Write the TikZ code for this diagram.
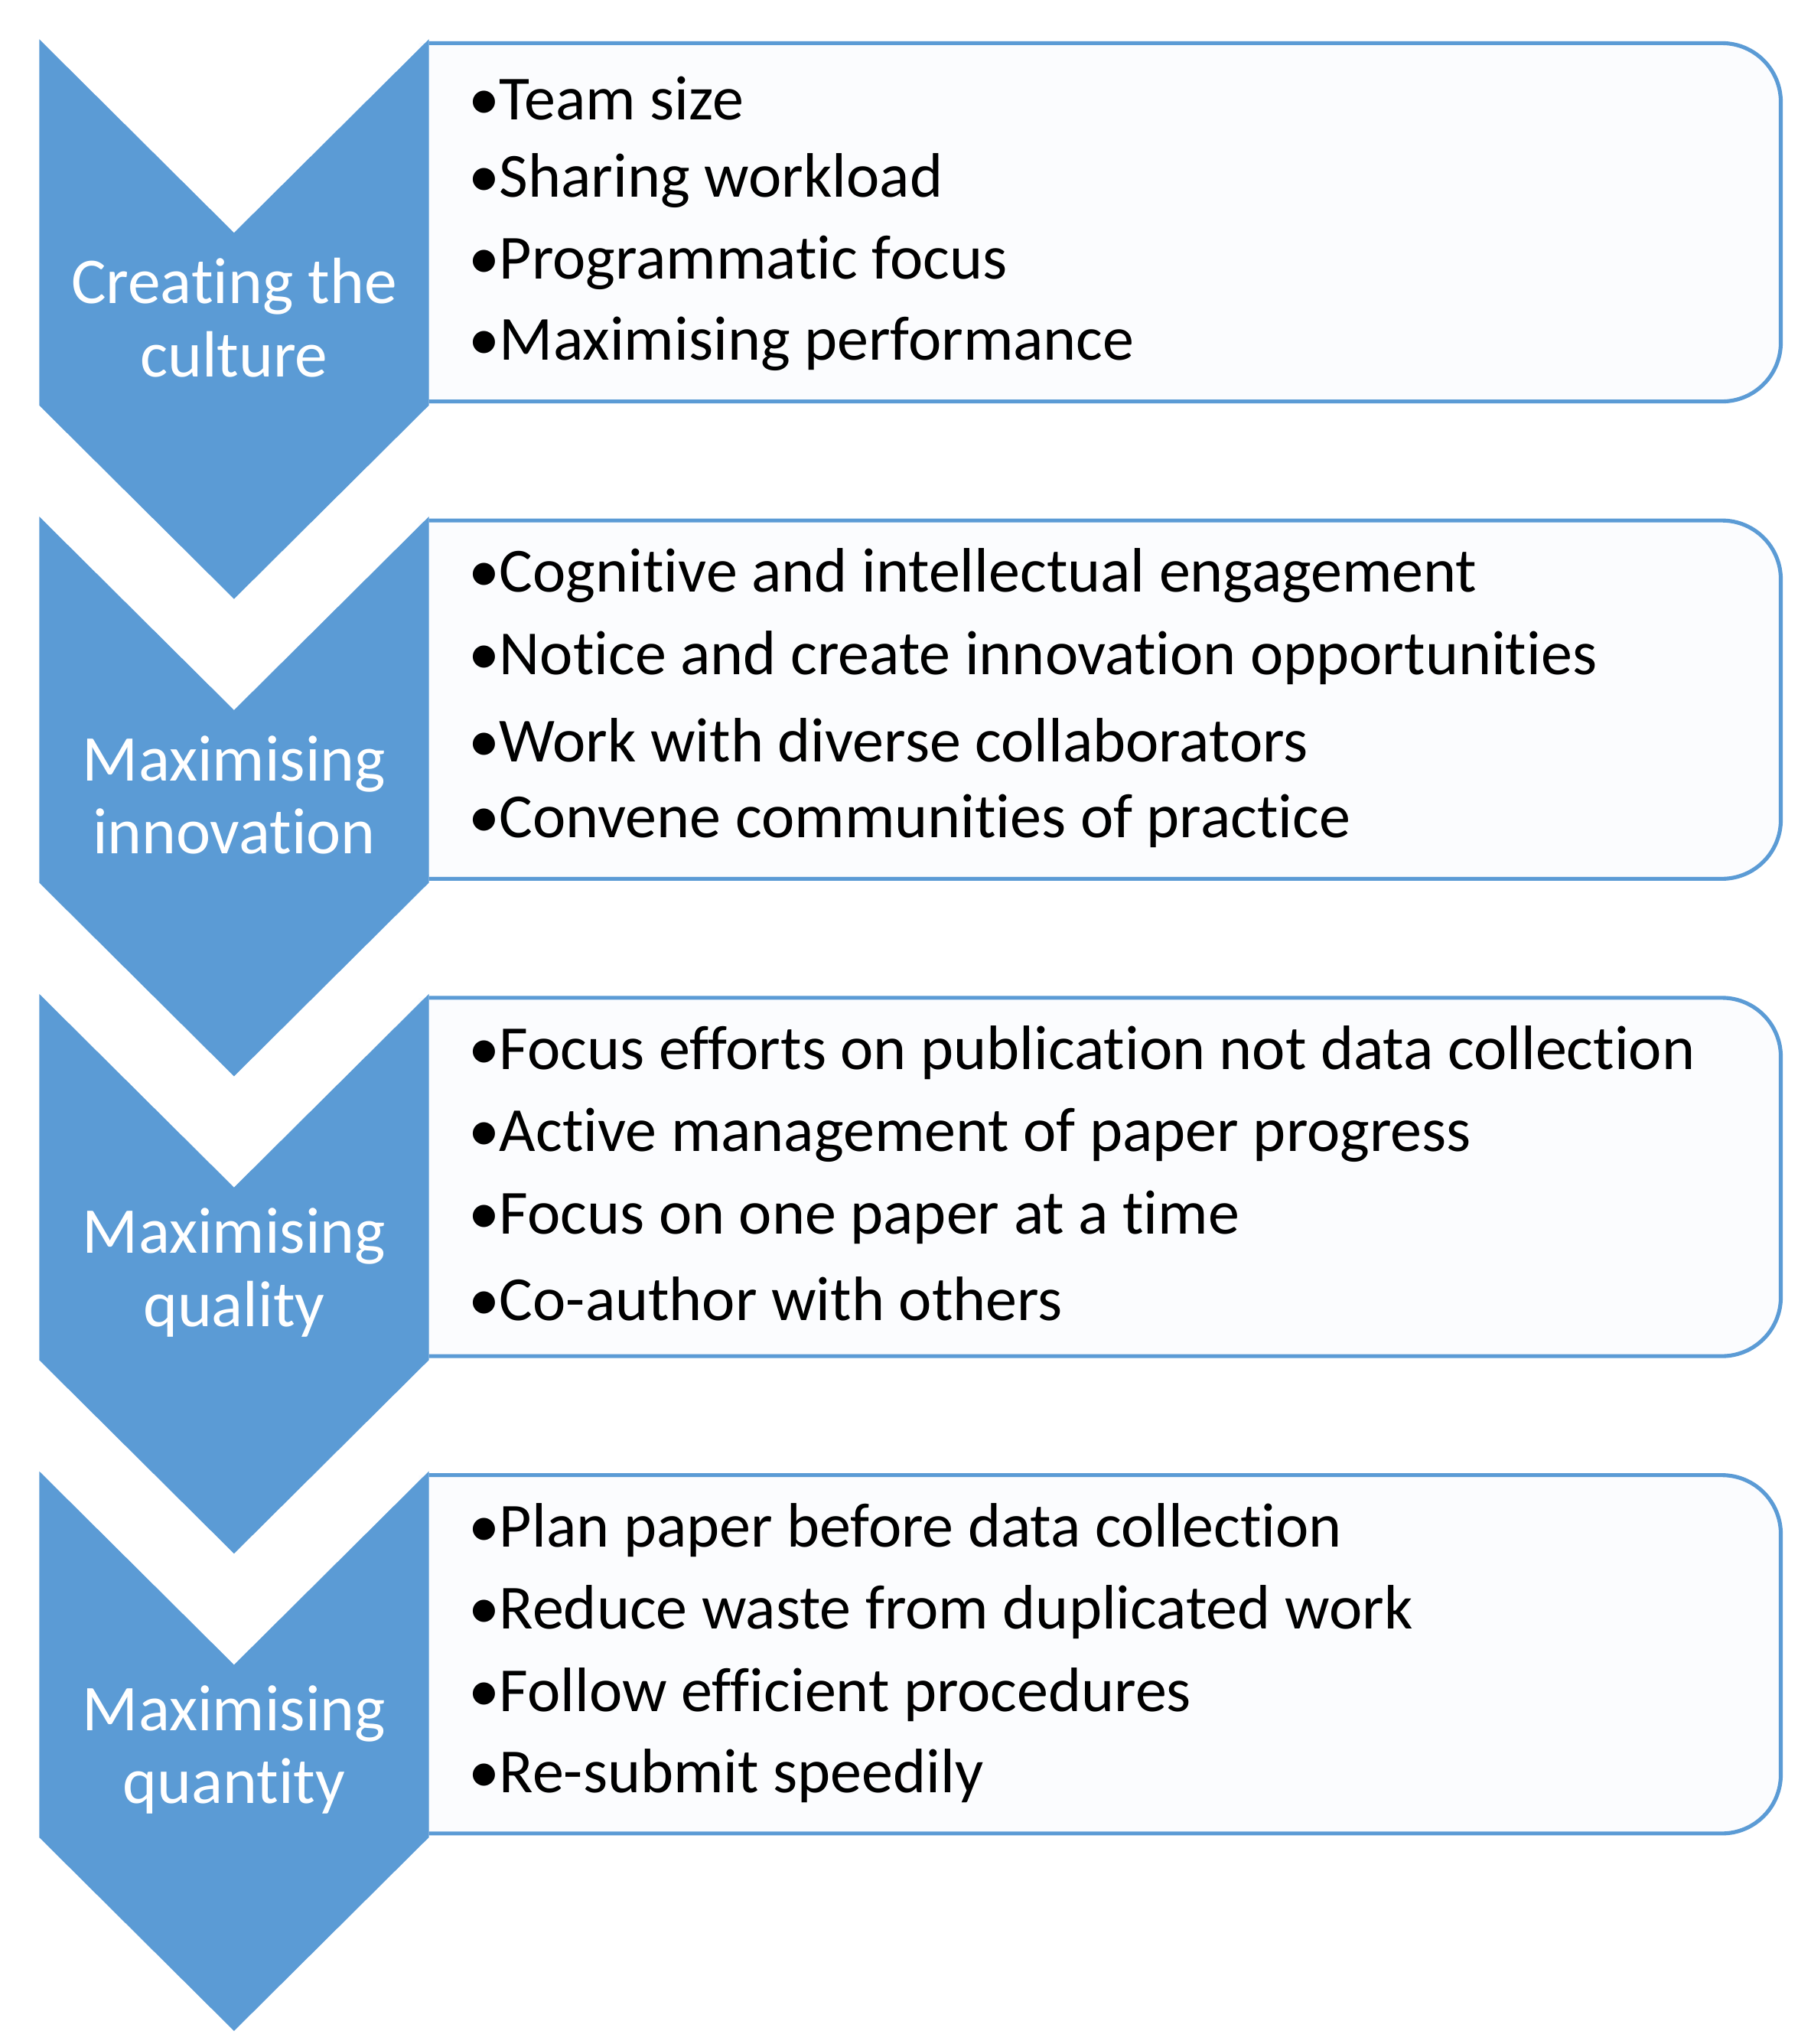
\documentclass[tikz,border=0pt]{standalone}
\usepackage{fontspec}
\setmainfont{Carlito}[Ligatures=NoCommon]
\definecolor{cblue}{HTML}{5B9BD5}
\definecolor{boxfill}{HTML}{FBFCFE}
\begin{document}
\begin{tikzpicture}[x=1pt,y=-1pt,
  box/.style={draw=cblue,line width=3pt,fill=boxfill,rounded corners=45pt},
  chev/.style={fill=cblue},
  lab/.style={text=white,align=center,font=\fontsize{50}{56}\selectfont},
  item/.style={anchor=west,font=\fontsize{48}{52}\selectfont,inner sep=0pt}]
\useasboundingbox (0,0) rectangle (1385,1563);
\foreach \i/\lab/\a/\b/\c/\d in {
 0/{Creating the\\culture}/{Team size}/{Sharing workload}/{Programmatic focus}/{Maximising performance},
 1/{Maximising\\innovation}/{Cognitive and intellectual engagement}/{Notice and create innovation opportunities}/{Work with diverse collaborators}/{Convene communities of practice},
 2/{Maximising\\quality}/{Focus efforts on publication not data collection}/{Active management of paper progress}/{Focus on one paper at a time}/{Co-author with others},
 3/{Maximising\\quantity}/{Plan paper before data collection}/{Reduce waste from duplicated work}/{Follow efficient procedures}/{Re-submit speedily}}{
 \pgfmathsetmacro{\o}{365*\i}
 \begin{scope}[yshift={-\o pt}]
  \fill[boxfill] (320,33) rectangle (1330,307);
  \draw[box] (328,33) -- (1362,33) -- (1362,307) -- (328,307);
  \fill[chev] (30,30) -- (179,178) -- (328,30) -- (328,310) -- (179,458) -- (30,310) -- cycle;
  \node[lab] (l\i) at (179,243) {\lab};
  \node[item] (a\i) at (358,75) {•\a};
  \node[item] (b\i) at (358,138) {•\b};
  \node[item] (c\i) at (358,201) {•\c};
  \node[item] (d\i) at (358,263) {•\d};
 \end{scope}
}
\end{tikzpicture}
\end{document}
